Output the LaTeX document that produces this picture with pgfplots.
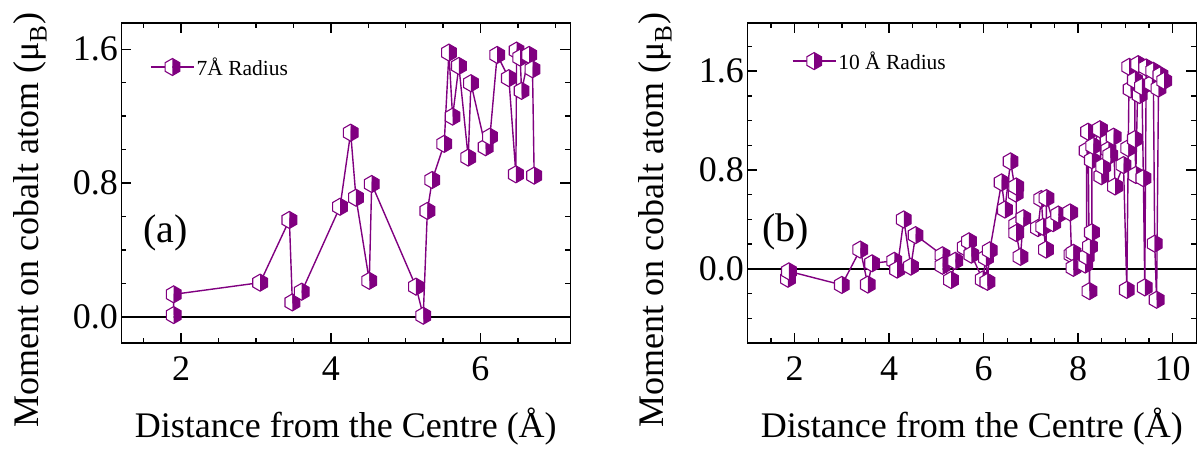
\documentclass[border=0pt]{standalone}
\usepackage{fontspec}
\setmainfont{Liberation Serif}
\usepackage{pgfplots}
\pgfplotsset{compat=1.18}

\definecolor{mpurple}{RGB}{128,0,128}

% hexagon marker: left half white, right half filled
\pgfdeclareplotmark{halfhex}{%
  \pgfpathmoveto{\pgfqpoint{0pt}{\pgfplotmarksize}}%
  \pgfpathlineto{\pgfqpoint{-0.866\pgfplotmarksize}{0.5\pgfplotmarksize}}%
  \pgfpathlineto{\pgfqpoint{-0.866\pgfplotmarksize}{-0.5\pgfplotmarksize}}%
  \pgfpathlineto{\pgfqpoint{0pt}{-\pgfplotmarksize}}%
  \pgfpathclose
  \pgfsetfillcolor{white}%
  \pgfusepath{fill}%
  \pgfpathmoveto{\pgfqpoint{0pt}{\pgfplotmarksize}}%
  \pgfpathlineto{\pgfqpoint{0.866\pgfplotmarksize}{0.5\pgfplotmarksize}}%
  \pgfpathlineto{\pgfqpoint{0.866\pgfplotmarksize}{-0.5\pgfplotmarksize}}%
  \pgfpathlineto{\pgfqpoint{0pt}{-\pgfplotmarksize}}%
  \pgfpathclose
  \pgfsetfillcolor{mpurple}%
  \pgfusepath{fill}%
  \pgfpathmoveto{\pgfqpoint{0pt}{\pgfplotmarksize}}%
  \pgfpathlineto{\pgfqpoint{0.866\pgfplotmarksize}{0.5\pgfplotmarksize}}%
  \pgfpathlineto{\pgfqpoint{0.866\pgfplotmarksize}{-0.5\pgfplotmarksize}}%
  \pgfpathlineto{\pgfqpoint{0pt}{-\pgfplotmarksize}}%
  \pgfpathlineto{\pgfqpoint{-0.866\pgfplotmarksize}{-0.5\pgfplotmarksize}}%
  \pgfpathlineto{\pgfqpoint{-0.866\pgfplotmarksize}{0.5\pgfplotmarksize}}%
  \pgfpathclose
  \pgfsetstrokecolor{mpurple}%
  \pgfusepath{stroke}%
}

\pgfplotstableread{
x y
1.90 0.010
1.90 0.134
3.055 0.204
3.446 0.579
3.486 0.086
3.611 0.150
4.123 0.658
4.265 1.101
4.336 0.712
4.514 0.215
4.546 0.794
5.138 0.180
5.235 0.006
5.290 0.633
5.355 0.818
5.515 1.034
5.578 1.580
5.627 1.197
5.711 1.500
5.836 0.952
5.872 1.397
6.068 1.014
6.126 1.077
6.223 1.566
6.379 1.427
6.473 0.852
6.482 1.592
6.530 1.550
6.549 1.351
6.650 1.566
6.695 1.480
6.717 0.844
}\radiusseven

\pgfplotstableread{
x y
1.86 -0.080
1.88 -0.020
3.00 -0.130
3.39 0.156
3.55 -0.127
3.64 0.045
4.11 0.065
4.17 -0.006
4.31 0.400
4.46 0.018
4.56 0.273
5.13 0.110
5.13 0.025
5.31 -0.090
5.40 0.065
5.60 0.175
5.69 0.223
5.74 0.115
5.98 -0.086
6.05 0.090
6.08 -0.105
6.13 0.150
6.38 0.700
6.45 0.480
6.57 0.870
6.68 0.610
6.69 0.667
6.69 0.357
6.69 0.290
6.78 0.097
6.84 0.410
7.15 0.330
7.22 0.565
7.26 0.340
7.32 0.156
7.33 0.573
7.47 0.370
7.58 0.440
7.83 0.457
7.86 0.115
7.90 0.130
7.90 0.008
8.15 0.035
8.18 0.100
8.18 0.957
8.21 1.110
8.24 -0.180
8.25 0.180
8.29 0.296
8.29 0.880
8.32 0.995
8.46 1.130
8.49 0.750
8.53 0.830
8.64 0.963
8.68 0.920
8.75 1.070
8.78 0.667
8.96 0.840
9.03 -0.170
9.06 0.977
9.08 1.635
9.11 1.453
9.20 1.528
9.20 1.050
9.22 0.760
9.27 1.657
9.30 1.407
9.35 1.474
9.38 0.734
9.41 -0.150
9.44 1.630
9.56 1.500
9.59 1.603
9.62 0.204
9.66 -0.250
9.70 1.460
9.74 1.568
9.82 1.522
}\radiusten

\pgfplotsset{
  momentaxis/.style={
    scale only axis, width=449pt, height=320pt,
    axis line style={line width=1.4pt},
    tick align=inside,
    major tick length=10pt, minor tick length=5pt,
    every tick/.style={black, line width=1.4pt},
    xtick pos=both, ytick pos=both,
    tick label style={font=\fontsize{36}{42}\selectfont},
    /pgf/number format/assume math mode=true,
    xticklabel style={yshift=-10pt},
    yticklabel style={/pgf/number format/fixed, /pgf/number format/fixed zerofill, /pgf/number format/precision=1},
    xlabel={Distance from the Centre (Å)},
    ylabel={Moment on cobalt atom (μ\textsubscript{B})},
    label style={font=\fontsize{36}{42}\selectfont},
    xlabel style={at={(axis description cs:0.5,-0.262)}, anchor=center},
    legend style={draw=none, fill=none, inner sep=0pt, font=\fontsize{21.5}{25}\selectfont, anchor=west},
    legend cell align=left,
    legend image code/.code={%
      \draw[mark repeat=2, mark phase=2] plot coordinates {(0pt,0pt) (21.5pt,0pt) (43pt,0pt)};%
    },
    clip=false,
  },
  momentplot/.style={mpurple, line width=1.4pt, mark=halfhex, mark size=8.5pt, mark options={line width=1.1pt}},
}

\begin{document}
\begin{tikzpicture}
\useasboundingbox (0pt,0pt) rectangle (1201pt,449pt);

% panel (a): 7 A radius
\begin{axis}[momentaxis,
  at={(121.3pt,106pt)}, anchor=south west,
  xmin=1.2, xmax=7.2, ymin=-0.157, ymax=1.757,
  xtick={2,4,6}, minor xtick={1.5,2.5,3,3.5,4.5,5,5.5,6.5,7},
  ytick={0,0.8,1.6}, minor ytick={0.2,0.4,0.6,1.0,1.2,1.4},
  ylabel style={at={(axis description cs:-0.203,0.384)}, anchor=center},
  legend style={at={(axis description cs:0.064,0.8625)}},
]
\draw[black, line width=2pt] (axis cs:1.2,0) -- (axis cs:7.2,0);
\addplot[momentplot] table {\radiusseven};
\addlegendentry{7Å Radius}
\node[font=\fontsize{40}{48}\selectfont] at (axis description cs:0.099,0.343) {(a)};
\end{axis}

% panel (b): 10 A radius
\begin{axis}[momentaxis,
  at={(747.3pt,106pt)}, anchor=south west,
  xmin=1.0, xmax=10.5, ymin=-0.6, ymax=1.99,
  xtick={2,4,6,8,10}, minor xtick={1.5,2.5,3,3.5,4.5,5,5.5,6.5,7,7.5,8.5,9,9.5},
  ytick={0,0.8,1.6}, minor ytick={-0.4,-0.2,0.2,0.4,0.6,1.0,1.2,1.4,1.8},
  ylabel style={at={(axis description cs:-0.205,0.384)}, anchor=center},
  legend style={at={(axis description cs:0.099,0.881)}},
]
\draw[black, line width=2pt] (axis cs:1.0,0) -- (axis cs:10.5,0);
\addplot[momentplot] table {\radiusten};
\addlegendentry{10 Å Radius}
\node[font=\fontsize{40}{48}\selectfont] at (axis description cs:0.086,0.348) {(b)};
\end{axis}
\end{tikzpicture}
\end{document}
